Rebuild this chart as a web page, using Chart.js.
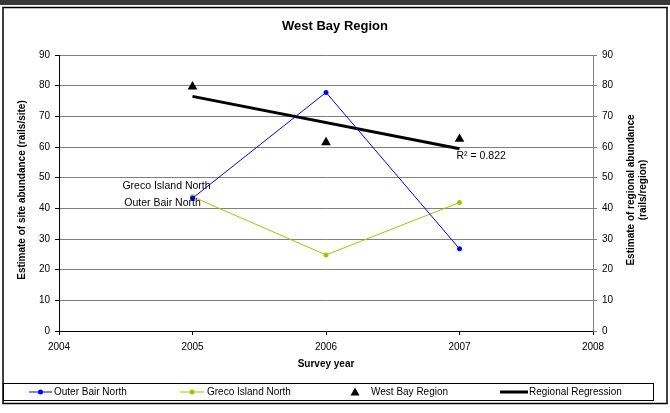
<!DOCTYPE html>
<html>
<head>
<meta charset="utf-8">
<script src="https://cdn.jsdelivr.net/npm/chart.js@4/dist/chart.umd.min.js"></script>
<style>
html,body{margin:0;padding:0;background:#fff;}
#wrap{width:670px;height:413px;position:relative;}
</style>
</head>
<body>
<div id="wrap"><canvas id="c" width="670" height="413"></canvas></div>
<script>
// ---- data ----
const years = [2005, 2006, 2007];
const outerBairNorth = [43.3, 77.8, 26.8];
const grecoIslandNorth = [43.8, 24.8, 41.9];
const westBayRegion = [79.7, 61.5, 62.6];
const regressionYears = [2005, 2007];
const regressionValues = [76.5, 59.4];
const xMin = 2004, xMax = 2008;
const yMin = 0, yMax = 90, yStep = 10;
const chartTitle = 'West Bay Region';
const xTitle = 'Survey year';
const yLeftTitle = 'Estimate of site abundance (rails/site)';
const yRightTitle = ['Estimate of regional abundance', '(rails/region)'];
const r2Text = 'R² = 0.822';
const seriesNames = ['Outer Bair North', 'Greco Island North', 'West Bay Region', 'Regional Regression'];

const FONT = '"Liberation Sans", Arial, sans-serif';
const pts = (xs, ys) => xs.map((x, i) => ({x: x, y: ys[i]}));

const decor = {
  id: 'decor',
  beforeDraw(chart) {
    const ctx = chart.ctx;
    ctx.save();
    ctx.fillStyle = '#fff';
    ctx.fillRect(0, 0, chart.width, chart.height);
    ctx.fillStyle = '#3a3a3a';
    ctx.fillRect(0, 0, chart.width, 5);
    ctx.strokeStyle = '#000';
    ctx.lineWidth = 1.5;
    ctx.strokeRect(3, 7.5, 664, 396);
    ctx.restore();
  },
  afterDraw(chart) {
    const ctx = chart.ctx;
    const ca = chart.chartArea;
    ctx.save();
    ctx.fillStyle = '#000';
    ctx.textAlign = 'center';
    ctx.textBaseline = 'middle';
    // title
    ctx.font = 'bold 13px ' + FONT;
    ctx.fillText(chartTitle, 335, 26);
    // x title
    ctx.font = 'bold 10px ' + FONT;
    ctx.fillText(xTitle, (ca.left + ca.right) / 2, 364);
    // left y title
    ctx.save();
    ctx.translate(22, 190);
    ctx.rotate(-Math.PI / 2);
    ctx.fillText(yLeftTitle, 0, 0);
    ctx.restore();
    // right y title
    ctx.save();
    ctx.translate(637, 190);
    ctx.rotate(-Math.PI / 2);
    ctx.fillText(yRightTitle[0], 0, -6);
    ctx.fillText(yRightTitle[1], 0, 6);
    ctx.restore();
    // series labels at first points
    ctx.font = '10.5px ' + FONT;
    const mG = chart.getDatasetMeta(1).data[0];
    const mB = chart.getDatasetMeta(0).data[0];
    ctx.fillText(seriesNames[1], mG.x - 26, mG.y - 11);
    ctx.fillText(seriesNames[0], mB.x - 30, mB.y + 5);
    // R2 label near regression end
    ctx.font = '10.5px ' + FONT;
    const mR = chart.getDatasetMeta(3).data[1];
    ctx.textAlign = 'left';
    ctx.fillText(r2Text, mR.x - 3, mR.y + 7);
    // legend
    ctx.lineWidth = 1;
    ctx.strokeStyle = '#000';
    ctx.strokeRect(3.5, 383.5, 650, 17);
    const ly = 392;
    const ds = chart.data.datasets;
    // outer bair
    ctx.strokeStyle = ds[0].borderColor; ctx.lineWidth = 1;
    ctx.beginPath(); ctx.moveTo(29, ly); ctx.lineTo(52, ly); ctx.stroke();
    ctx.fillStyle = ds[0].borderColor;
    ctx.beginPath(); ctx.arc(40.5, ly, 2.5, 0, Math.PI * 2); ctx.fill();
    // greco
    ctx.strokeStyle = ds[1].borderColor;
    ctx.beginPath(); ctx.moveTo(180, ly); ctx.lineTo(204, ly); ctx.stroke();
    ctx.fillStyle = ds[1].borderColor;
    ctx.beginPath(); ctx.arc(192, ly, 2.5, 0, Math.PI * 2); ctx.fill();
    // triangle
    ctx.fillStyle = '#000';
    ctx.beginPath(); ctx.moveTo(355, ly - 4.5); ctx.lineTo(359.5, ly + 3.5); ctx.lineTo(350.5, ly + 3.5); ctx.closePath(); ctx.fill();
    // regression
    ctx.strokeStyle = '#000'; ctx.lineWidth = 3;
    ctx.beginPath(); ctx.moveTo(500, ly); ctx.lineTo(528, ly); ctx.stroke();
    ctx.fillStyle = '#000';
    ctx.textAlign = 'left';
    ctx.font = '10px ' + FONT;
    ctx.fillText(seriesNames[0], 54, ly);
    ctx.fillText(seriesNames[1], 207, ly);
    ctx.fillText(seriesNames[2], 371, ly);
    ctx.fillText(seriesNames[3], 529, ly);
    ctx.restore();
  }
};

new Chart(document.getElementById('c'), {
  type: 'line',
  data: {
    datasets: [
      {label: seriesNames[0], data: pts(years, outerBairNorth), borderColor: '#0000FF', backgroundColor: '#0000FF',
       borderWidth: 1, pointRadius: 2.5, pointBorderWidth: 0, yAxisID: 'y', tension: 0},
      {label: seriesNames[1], data: pts(years, grecoIslandNorth), borderColor: '#99CC00', backgroundColor: '#99CC00',
       borderWidth: 1, pointRadius: 2.5, pointBorderWidth: 0, yAxisID: 'y', tension: 0},
      {label: seriesNames[2], data: pts(years, westBayRegion), borderColor: '#000', backgroundColor: '#000',
       showLine: false, pointStyle: 'triangle', pointRadius: 5.6, pointBorderWidth: 0, yAxisID: 'y2'},
      {label: seriesNames[3], data: pts(regressionYears, regressionValues), borderColor: '#000', backgroundColor: '#000',
       borderWidth: 3, pointRadius: 0, yAxisID: 'y2', tension: 0}
    ]
  },
  options: {
    responsive: false,
    animation: false,
    devicePixelRatio: 1,
    layout: {padding: {top: 55, left: 0, right: 0, bottom: 52}},
    plugins: {legend: {display: false}, title: {display: false}, tooltip: {enabled: false}},
    scales: {
      x: {
        type: 'linear', min: xMin, max: xMax,
        ticks: {stepSize: 1, color: '#000', font: {family: FONT, size: 10}, padding: 6, callback: v => String(v)},
        grid: {drawOnChartArea: false, tickColor: '#000', tickLength: 4},
        border: {color: '#000', width: 1},
        afterFit: s => { s.height = 30; }
      },
      y: {
        position: 'left', min: yMin, max: yMax,
        ticks: {stepSize: yStep, color: '#000', font: {family: FONT, size: 10}, padding: 5},
        grid: {color: c => c.tick && c.tick.value === 0 ? 'rgba(0,0,0,0)' : '#808080', tickColor: '#000', tickLength: 4, lineWidth: 1},
        border: {color: '#000', width: 1},
        afterFit: s => { s.width = 59; }
      },
      y2: {
        position: 'right', min: yMin, max: yMax,
        ticks: {stepSize: yStep, color: '#000', font: {family: FONT, size: 10}, padding: 5},
        grid: {drawOnChartArea: false, tickColor: '#808080', tickLength: 4},
        border: {color: '#808080', width: 1},
        afterFit: s => { s.width = 77; }
      }
    }
  },
  plugins: [decor]
});
</script>
</body>
</html>
